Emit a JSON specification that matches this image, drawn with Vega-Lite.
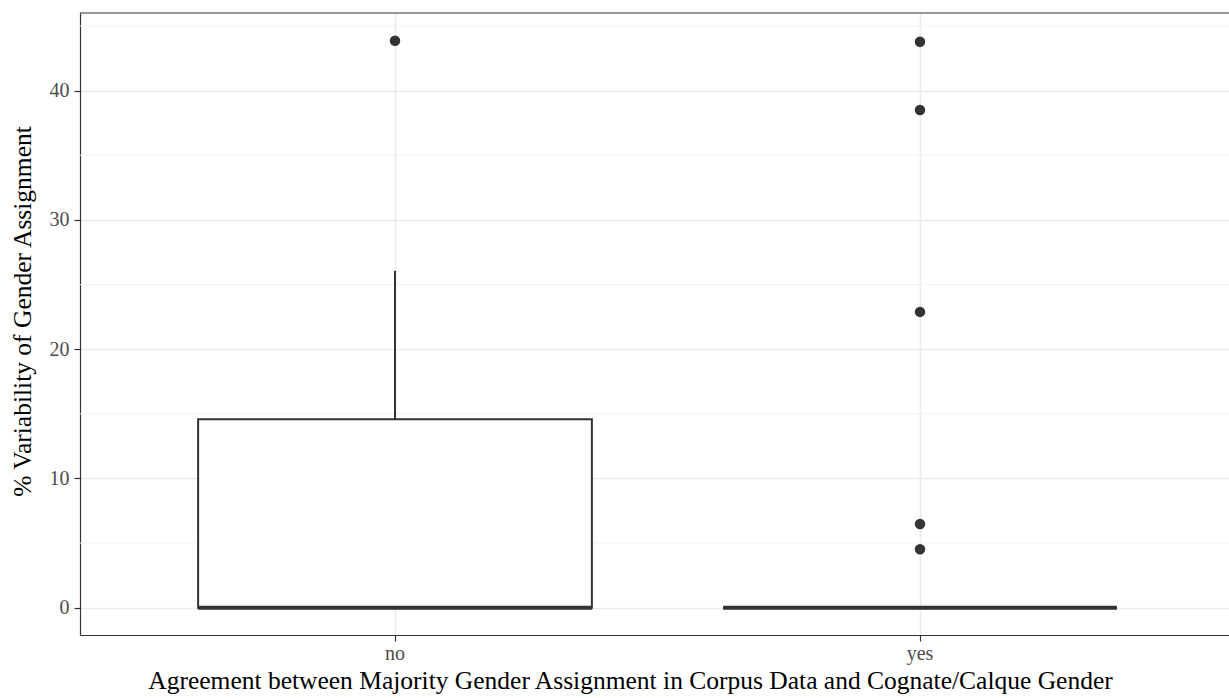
{
  "$schema": "https://vega.github.io/schema/vega-lite/v6.json",
  "width": 1149,
  "height": 622,
  "autosize": {"type": "none"},
  "padding": {"left": 80, "top": 13, "right": 0, "bottom": 63},
  "background": "white",
  "config": {
    "view": {"stroke": null},
    "font": "Liberation Serif",
    "axis": {
      "labelFont": "Liberation Serif",
      "titleFont": "Liberation Serif",
      "labelColor": "#4D4D4D",
      "labelFontSize": 20,
      "titleFontSize": 25.5,
      "titleFontWeight": "normal",
      "titleColor": "#000000",
      "domainColor": "#333333",
      "domainWidth": 1.2,
      "tickColor": "#333333",
      "tickWidth": 1.2,
      "tickSize": 6,
      "gridColor": "#EBEBEB",
      "gridWidth": 1.6
    }
  },
  "datasets": {
    "boxes": [
      {"group": "no", "lo": 0, "q1": 0, "med": 0, "q3": 14.58, "hi": 26.07},
      {"group": "yes", "lo": 0, "q1": 0, "med": 0, "q3": 0, "hi": 0}
    ],
    "outliers": [
      {"group": "no", "value": 43.85},
      {"group": "yes", "value": 43.77},
      {"group": "yes", "value": 38.5},
      {"group": "yes", "value": 22.88},
      {"group": "yes", "value": 6.47},
      {"group": "yes", "value": 4.52}
    ],
    "minor": [{"v": 5}, {"v": 15}, {"v": 25}, {"v": 35}, {"v": 45}]
  },
  "layer": [
    {
      "data": {"name": "minor"},
      "mark": {"type": "rule", "color": "#F2F2F2", "strokeWidth": 1},
      "encoding": {
        "y": {"field": "v", "type": "quantitative",
          "scale": {"domain": [-2.11, 46.0], "nice": false, "zero": false},
          "axis": {"title": "% Variability of Gender Assignment", "values": [0, 10, 20, 30, 40], "grid": true, "labelPadding": 5, "titleX": -50, "titleY": 298, "titleAnchor": "middle", "titleAlign": "center", "titleBaseline": "alphabetic"}}
      }
    },
    {
      "data": {"name": "boxes"},
      "mark": {"type": "rule", "color": "#333333", "strokeWidth": 2},
      "encoding": {
        "x": {"field": "group", "type": "nominal", "sort": ["no", "yes"],
          "scale": {"type": "band", "range": [0, 1155], "paddingInner": 0.25, "paddingOuter": 0.225},
          "axis": {"title": "Agreement between Majority Gender Assignment in Corpus Data and Cognate/Calque Gender", "grid": true, "bandPosition": 0.5, "labelAngle": 0, "labelPadding": 2, "titlePadding": 0, "titleX": 550, "titleAnchor": "middle", "titleAlign": "center", "titleY": 53, "titleBaseline": "alphabetic"}},
        "y": {"field": "q3", "type": "quantitative",
          "axis": {"title": "% Variability of Gender Assignment", "values": [0, 10, 20, 30, 40], "grid": true, "labelPadding": 5, "titleX": -50, "titleY": 298, "titleAnchor": "middle", "titleAlign": "center", "titleBaseline": "alphabetic"}},
        "y2": {"field": "hi"}
      }
    },
    {
      "data": {"name": "boxes"},
      "mark": {"type": "rect", "fill": "white", "stroke": "#333333", "strokeWidth": 2},
      "encoding": {
        "x": {"field": "group", "type": "nominal", "sort": ["no", "yes"]},
        "y": {"field": "q1", "type": "quantitative"},
        "y2": {"field": "q3"}
      }
    },
    {
      "data": {"name": "boxes"},
      "mark": {"type": "rect", "fill": "transparent", "stroke": "#333333", "strokeWidth": 4},
      "encoding": {
        "x": {"field": "group", "type": "nominal", "sort": ["no", "yes"]},
        "y": {"field": "med", "type": "quantitative"},
        "y2": {"field": "med"}
      }
    },
    {
      "data": {"name": "outliers"},
      "mark": {"type": "point", "filled": true, "color": "#333333", "opacity": 1, "size": 110},
      "encoding": {
        "x": {"field": "group", "type": "nominal", "sort": ["no", "yes"]},
        "y": {"field": "value", "type": "quantitative"}
      }
    },
    {
      "data": {"values": [{"top": 46.0}]},
      "mark": {"type": "rule", "color": "#333333", "strokeWidth": 1.2},
      "encoding": {
        "y": {"field": "top", "type": "quantitative"}
      }
    }
  ]
}
